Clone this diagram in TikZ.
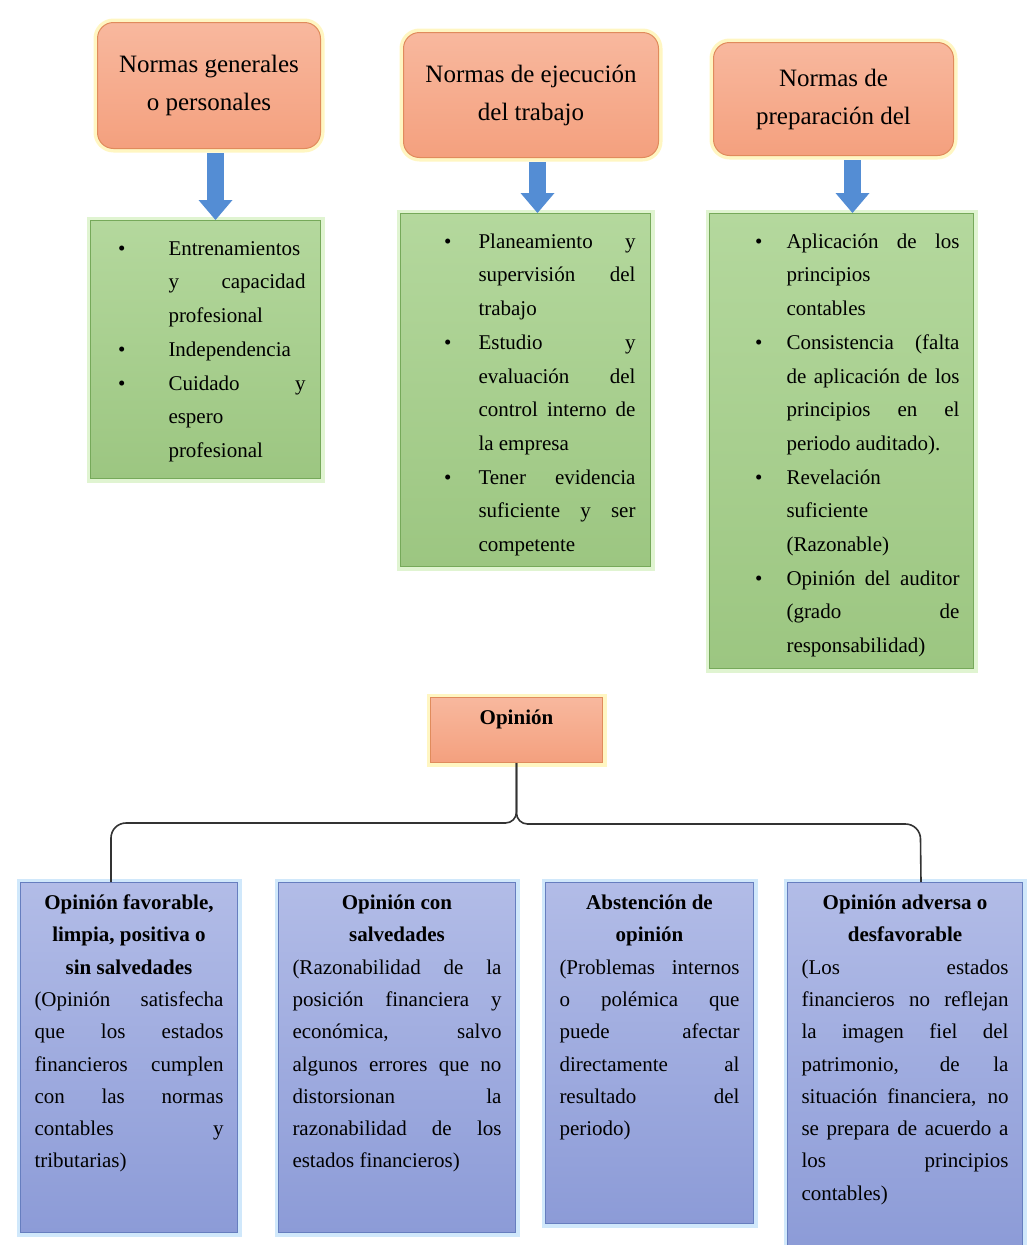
\documentclass[tikz,border=0pt]{standalone}
\usepackage{fontspec}
\setmainfont{Liberation Serif}
\usetikzlibrary{arrows.meta}

\definecolor{naranjaclaro}{HTML}{F8B89E}
\definecolor{naranja}{HTML}{F4A07E}
\definecolor{bordenaranja}{HTML}{E08B5C}
\definecolor{brilloamarillo}{HTML}{FFF09A}
\definecolor{verdeclaro}{HTML}{B4D89D}
\definecolor{verde}{HTML}{9CC681}
\definecolor{bordeverde}{HTML}{76A95A}
\definecolor{brilloverde}{HTML}{D3F0BE}
\definecolor{azulclaro}{HTML}{B2BCE7}
\definecolor{azul}{HTML}{8C9BD7}
\definecolor{bordeazul}{HTML}{667EBF}
\definecolor{brilloazul}{HTML}{C4E2FA}
\definecolor{flechaazul}{HTML}{548DD4}

\pretolerance=10000
\tolerance=10000
\hbadness=10000

\newenvironment{vinetas}[1]{\begin{list}{\textbullet}{\setlength{\leftmargin}{63pt}\setlength{\labelwidth}{12pt}\setlength{\labelsep}{#1}\setlength{\itemsep}{0pt}\setlength{\parsep}{0pt}\setlength{\topsep}{0pt}\setlength{\partopsep}{0pt}}}{\end{list}}

\begin{document}
\begin{tikzpicture}[x=1pt, y=1pt,
	norma/.style={anchor=north west, draw=bordenaranja, line width=1pt, top color=naranjaclaro, bottom color=naranja, rounded corners=16pt, align=center, font=\fontsize{25}{38}\selectfont, preaction={draw=brilloamarillo, line width=8pt, opacity=.6}},
	lista/.style={anchor=north west, draw=bordeverde, line width=1pt, top color=verdeclaro, bottom color=verde, align=justify, inner xsep=15pt, inner ysep=1pt, text height=0pt, font=\fontsize{21}{33.7}\selectfont, preaction={draw=brilloverde, line width=8pt, opacity=.7}},
	juicio/.style={anchor=north west, draw=bordeazul, line width=1pt, top color=azulclaro, bottom color=azul, align=justify, inner xsep=14pt, inner ysep=12pt, text height=15pt, font=\fontsize{21}{32.3}\selectfont, preaction={draw=brilloazul, line width=8pt, opacity=.8}},
	opinion/.style={anchor=north west, draw=bordenaranja, line width=1pt, top color=naranjaclaro, bottom color=naranja, minimum width=172pt, inner ysep=12pt, text height=15pt, text depth=26pt, font=\fontsize{21}{26}\selectfont\bfseries, preaction={draw=brilloamarillo, line width=8pt, opacity=.6}},
	flecha/.style={draw=flechaazul, line width=17pt, shorten <=4pt, -{Triangle[width=34pt, length=20pt, line width=0pt]}},
	llave/.style={draw=black!80, line width=1.6pt}]
	\useasboundingbox (0,0) rectangle (1027,-1245);

	% Normas
	\node[norma, minimum width=223pt, minimum height=126pt] (norma1) at (97,-22) {Normas generales\\ o personales};
	\node[norma, minimum width=255pt, minimum height=125pt] (norma2) at (403,-32) {Normas de ejecución\\ del trabajo};
	\node[norma, minimum width=240pt, minimum height=113pt] (norma3) at (713,-42) {Normas de\\ preparación del};

	% Listas
	\node[lista, text width=200pt, text depth=256pt] (lista1) at (90,-220) {\begin{vinetas}{43pt}
		\item Entrenamientos\linebreak y capacidad\linebreak profesional
		\item Independencia
		\item Cuidado y\linebreak espero\linebreak profesional
	\end{vinetas}};
	\node[lista, text width=220pt, text depth=351pt] (lista2) at (400,-213) {\begin{vinetas}{27pt}
		\item Planeamiento y\linebreak supervisión del\linebreak trabajo
		\item Estudio y\linebreak evaluación del\linebreak control interno de\linebreak la empresa
		\item Tener evidencia\linebreak suficiente y ser\linebreak competente
	\end{vinetas}};
	\node[lista, inner xsep=14pt, text width=236pt, text depth=453pt] (lista3) at (709,-213) {\begin{vinetas}{24pt}
		\item Aplicación de los\linebreak principios\linebreak contables
		\item Consistencia (falta\linebreak de aplicación de los\linebreak principios en el\linebreak periodo auditado).
		\item Revelación\linebreak suficiente\linebreak (Razonable)
		\item Opinión del auditor\linebreak (grado de\linebreak responsabilidad)
	\end{vinetas}};

	\draw[flecha] ([xshift=6.5pt]norma1.south) -- ([xshift=10pt]lista1.north);
	\draw[flecha] ([xshift=6.5pt]norma2.south) -- ([xshift=12pt]lista2.north);
	\draw[flecha] ([xshift=19pt]norma3.south) -- ([xshift=11pt]lista3.north);

	% Opinion
	\node[opinion] (opinion) at (430,-697) {Opinión};

	\node[juicio, text width=189pt, text depth=311pt] (juicio1) at (20,-882) {{\centering\bfseries Opinión favorable,\\ limpia, positiva o\\ sin salvedades\par}
		(Opinión satisfecha\linebreak que los estados\linebreak financieros cumplen\linebreak con las normas\linebreak contables y\linebreak tributarias)};
	\node[juicio, text width=209pt, text depth=311pt] (juicio2) at (278,-882) {{\centering\bfseries Opinión con\\ salvedades\par}
		(Razonabilidad de la\linebreak posición financiera y\linebreak económica, salvo\linebreak algunos errores que no\linebreak distorsionan la\linebreak razonabilidad de los\linebreak estados financieros)};
	\node[juicio, text width=180pt, text depth=302pt] (juicio3) at (545,-882) {{\centering\bfseries Abstención de\\ opinión\par}
		(Problemas internos\linebreak o polémica que\linebreak puede afectar\linebreak directamente al\linebreak resultado del\linebreak periodo)};
	\node[juicio, text width=207pt, text depth=329pt] (juicio4) at (787,-882) {{\centering\bfseries Opinión adversa o\\ desfavorable\par}
		(Los estados\linebreak financieros no reflejan\linebreak la imagen fiel del\linebreak patrimonio, de la\linebreak situación financiera, no\linebreak se prepara de acuerdo a\linebreak los principios\linebreak contables)};

	\draw[llave] ([xshift=-18pt]juicio1.north) -- ++(0,44) arc[start angle=180, end angle=90, radius=15pt] -- ++(379.5,0) arc[start angle=-90, end angle=0, radius=11pt] -- (opinion.south);
	\draw[llave] (opinion.south) -- ++(0,-50) arc[start angle=180, end angle=270, radius=11pt] -- ++(378,0) arc[start angle=90, end angle=0, radius=15pt] -- ([xshift=16pt]juicio4.north);
\end{tikzpicture}
\end{document}
